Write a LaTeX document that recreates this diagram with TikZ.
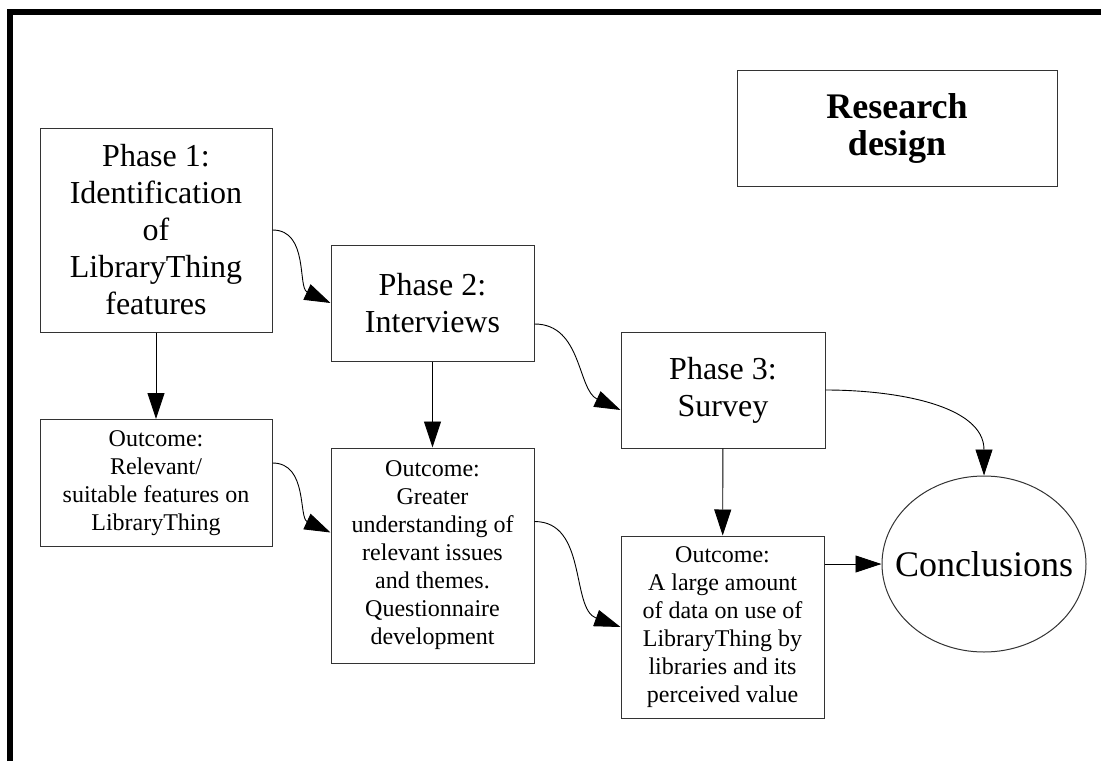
\documentclass[tikz,border=0pt]{standalone}
\usepackage{fontspec}
\setmainfont{Liberation Serif}
\usetikzlibrary{arrows.meta,shapes.geometric}

\begin{document}
\begin{tikzpicture}[x=1pt,y=-1pt,
        phase/.style={draw=black!80,line width=1pt,align=center,inner sep=0pt,
                      font=\fontsize{32}{37}\selectfont},
        outcome/.style={draw=black!80,line width=1pt,align=center,inner sep=0pt,
                        font=\fontsize{24}{28}\selectfont},
        link/.style={-{Triangle[length=26pt,width=17pt]},line width=0.9pt}]
    \useasboundingbox (0,0) rectangle (1101,761);
    \draw[line width=5.5pt] (10,761) -- (10,12) -- (1101,12);
    \node[phase,minimum width=320pt,minimum height=116pt,
          font=\fontsize{36}{37}\selectfont\bfseries] (title) at (897,128) {Research\\design};
    \node[phase,minimum width=232pt,minimum height=204pt] (phase1) at (156,230)
        {Phase 1:\\Identification\\of\\LibraryThing\\features};
    \node[phase,minimum width=203pt,minimum height=116pt] (phase2) at (432.5,303)
        {Phase 2:\\Interviews};
    \node[phase,minimum width=204pt,minimum height=116pt] (phase3) at (723,390)
        {Phase 3:\\Survey};
    \node[outcome,minimum width=232pt,minimum height=127pt] (out1) at (156,483)
        {Outcome:\\Relevant/\\suitable features on\\LibraryThing};
    \node[outcome,minimum width=203pt,minimum height=215pt] (out2) at (432.5,555.5)
        {Outcome:\\Greater\\understanding of\\relevant issues\\and themes.\\Questionnaire\\development};
    \node[outcome,minimum width=203pt,minimum height=182pt] (out3) at (722.5,627)
        {Outcome:\\A large amount\\of data on use of\\LibraryThing by\\libraries and its\\perceived value};
    \node[ellipse,draw=black!80,line width=1pt,inner sep=0pt,minimum width=204pt,
          minimum height=176pt,font=\fontsize{36}{40}\selectfont] (concl) at (984,564)
        {\makebox[0pt]{Conclusions}};
    \draw[link] (phase1) -- (out1);
    \draw[link] (phase2) -- (out2);
    \draw[link] (phase3) -- (out3);
    \draw[link] (phase1.east) to[out=0,in=155] (phase2.west);
    \draw[link] ([yshift=-21pt]phase2.east) to[out=0,in=155] ([yshift=-20pt]phase3.west);
    \draw[link] ([yshift=20pt]out1.east) to[out=0,in=155] ([yshift=23pt]out2.west);
    \draw[link] ([yshift=34pt]out2.east) to[out=0,in=160] (out3.west);
    \draw[link] (out3.east |- concl.west) -- (concl.west);
    \draw[link] (phase3.east) to[out=0,in=90] (concl.north);
\end{tikzpicture}
\end{document}
